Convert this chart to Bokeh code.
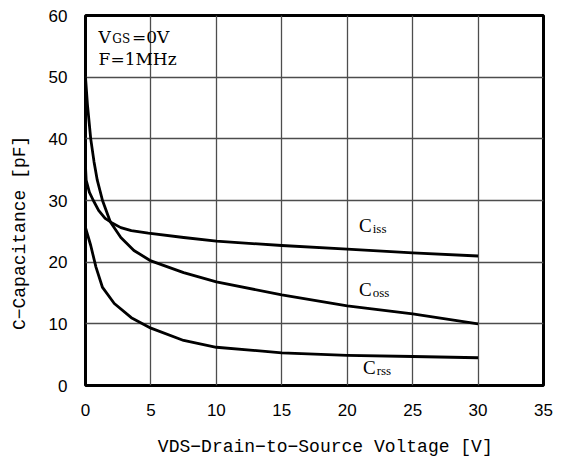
from bokeh.plotting import figure
from bokeh.models import Label, Range1d, FixedTicker
from bokeh.embed import file_html
from bokeh.resources import INLINE

# Data
ciss_x = [0, 0.05, 0.3, 0.6, 1.0, 1.5, 2.0, 2.7, 3.5, 4.8, 7.5, 10, 15, 20, 25, 30]
ciss_y = [35.5, 33.3, 31.3, 30.0, 28.4, 27.1, 26.4, 25.6, 25.1, 24.7, 24.0, 23.4, 22.7, 22.1, 21.5, 21.0]
coss_x = [0, 0.15, 0.4, 0.65, 0.9, 1.3, 1.9, 2.7, 3.7, 5, 7.5, 10, 15, 20, 25, 30]
coss_y = [50, 45.5, 40, 36.3, 33.3, 30.0, 26.5, 24.0, 21.9, 20.2, 18.3, 16.8, 14.7, 12.9, 11.6, 10.0]
crss_x = [0, 0.4, 0.8, 1.3, 2.2, 3.5, 5, 7.5, 10, 15, 20, 25, 30]
crss_y = [25.6, 22.7, 19.2, 15.9, 13.3, 11.0, 9.3, 7.3, 6.2, 5.3, 4.9, 4.7, 4.5]
x_ticks = [0, 5, 10, 15, 20, 25, 30, 35]
y_ticks = [0, 10, 20, 30, 40, 50, 60]

p = figure(width=570, height=466, output_backend="svg", toolbar_location=None,
           x_range=Range1d(0, 35), y_range=Range1d(0, 60),
           min_border_left=85, min_border_right=27, min_border_top=15, min_border_bottom=81)
p.background_fill_color = "white"
p.border_fill_color = "white"
p.outline_line_color = "black"
p.outline_line_width = 3

p.xaxis.ticker = FixedTicker(ticks=x_ticks)
p.yaxis.ticker = FixedTicker(ticks=y_ticks)
for ax in (p.xaxis, p.yaxis):
    ax.axis_line_color = None
    ax.major_tick_line_color = None
    ax.minor_tick_line_color = None
    ax.major_label_text_font = "Liberation Sans"
    ax.major_label_text_font_size = "17px"
    ax.major_label_text_color = "black"
    ax.axis_label_text_font = "Liberation Mono"
    ax.axis_label_text_font_style = "normal"
    ax.axis_label_text_font_size = "18px"
    ax.axis_label_text_color = "black"
p.xaxis.major_label_standoff = 12
p.yaxis.major_label_standoff = 12
NB = "\u00a0"
p.xaxis.axis_label = NB * 2 + "VDS\u2212Drain\u2212to\u2212Source Voltage [V]"
p.xaxis.axis_label_standoff = 18
p.yaxis.axis_label = "C\u2212Capacitance [pF]" + NB * 6
p.yaxis.axis_label_standoff = 16

p.grid.grid_line_color = "#4d4d4d"
p.grid.grid_line_width = 1.3
p.grid.grid_line_alpha = 1.0

for xs, ys in ((ciss_x, ciss_y), (coss_x, coss_y), (crss_x, crss_y)):
    p.line(xs, ys, line_color="black", line_width=2.8, line_join="round")

def add_text(x, y, t, size, font="Liberation Serif"):
    p.add_layout(Label(x=x, y=y, text=t, text_font=font,
                       text_font_size=size, text_color="black",
                       text_baseline="middle", text_align="left"))

# Curve labels: big C + small subscript
add_text(20.9, 25.9, "C", "19px")
add_text(21.95, 25.5, "iss", "13px")
add_text(20.9, 15.5, "C", "19px")
add_text(21.95, 15.1, "oss", "13px")
add_text(21.2, 2.9, "C", "19px")
add_text(22.25, 2.5, "rss", "13px")

# Conditions
add_text(1.0, 56.5, "V", "17px", "DejaVu Serif")
add_text(2.05, 56.2, "GS", "12px", "DejaVu Serif")
add_text(3.55, 56.5, "=0V", "17px", "DejaVu Serif")
add_text(1.0, 52.9, "F=1MHz", "17px", "DejaVu Serif")

open("out.html", "w").write(file_html(p, INLINE))
